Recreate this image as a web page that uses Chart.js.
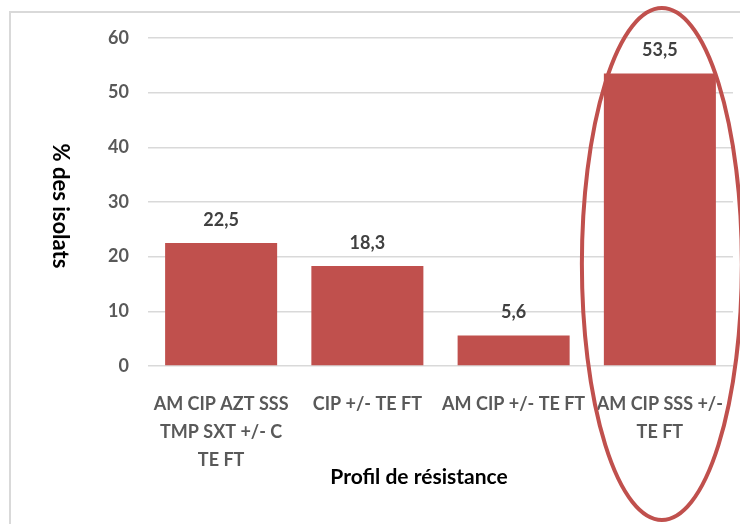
<!DOCTYPE html>
<html>
<head>
<meta charset="utf-8">
<script src="https://cdn.jsdelivr.net/npm/chart.js@4"></script>
<style>
  html, body { margin: 0; padding: 0; background: #ffffff; }
  #wrap { width: 740px; height: 524px; }
</style>
</head>
<body>
<div id="wrap"><canvas id="c" width="740" height="524"></canvas></div>
<script>
// Profils de résistance et pourcentage des isolats
const categories = [
  ["AM CIP AZT SSS", "TMP SXT +/- C", "TE FT"],
  "CIP +/- TE FT",
  "AM CIP +/- TE FT",
  ["AM CIP SSS +/-", "TE FT"]
];
const percentIsolats = [22.5, 18.3, 5.6, 53.5];
const yTicks = [0, 10, 20, 30, 40, 50, 60];

const BAR = '#C0504D';
const FONT = 'Lato, "Open Sans", sans-serif';

// Frame, value labels, axis titles and the highlight ellipse
const decorations = {
  id: 'decorations',
  beforeDraw(chart) {
    const ctx = chart.ctx;
    ctx.save();
    ctx.fillStyle = '#ffffff';
    ctx.fillRect(0, 0, chart.width, chart.height);
    ctx.strokeStyle = '#d9d9d9';
    ctx.lineWidth = 2;
    ctx.strokeRect(10, 12, 800, 600);
    ctx.restore();
  },
  afterDatasetsDraw(chart) {
    const ctx = chart.ctx;
    const meta = chart.getDatasetMeta(0);
    const data = chart.data.datasets[0].data;
    ctx.save();
    ctx.font = 'bold 18px ' + FONT;
    ctx.fillStyle = '#404040';
    ctx.textAlign = 'center';
    ctx.textBaseline = 'middle';
    meta.data.forEach((bar, i) => {
      ctx.fillText(data[i].toFixed(1).replace('.', ','), bar.x, bar.y - 23);
    });

    // axis titles
    ctx.fillStyle = '#000000';
    ctx.font = 'bold 21px ' + FONT;
    ctx.fillText('Profil de résistance', 419, 477);
    ctx.font = 'bold 22px ' + FONT;
    ctx.translate(60, 206);
    ctx.rotate(Math.PI / 2);
    ctx.fillText('% des isolats', 0, 0);
    ctx.restore();

    // ellipse around the last profile
    const xs = chart.scales.x;
    const cx = xs.getPixelForValue(percentIsolats.length - 1) + 2;
    ctx.save();
    ctx.strokeStyle = BAR;
    ctx.lineWidth = 4;
    ctx.beginPath();
    ctx.ellipse(cx, 264, 80, 256, 0, 0, Math.PI * 2);
    ctx.stroke();
    ctx.restore();
  }
};

new Chart(document.getElementById('c'), {
  type: 'bar',
  data: {
    labels: categories,
    datasets: [{
      data: percentIsolats,
      backgroundColor: BAR,
      borderWidth: 0,
      categoryPercentage: 1,
      barPercentage: 0.766
    }]
  },
  options: {
    responsive: false,
    animation: false,
    devicePixelRatio: 1,
    layout: { padding: { left: 0, right: 7, top: 38, bottom: 0 } },
    plugins: {
      legend: { display: false },
      tooltip: { enabled: false }
    },
    scales: {
      y: {
        min: 0,
        max: 60,
        afterBuildTicks(scale) {
          scale.ticks = yTicks.map(v => ({ value: v }));
        },
        afterFit(scale) { scale.width = 148; },
        grid: { color: '#d9d9d9', lineWidth: 1.5, drawTicks: false },
        border: { display: false },
        ticks: {
          color: '#595959',
          font: { family: FONT, size: 18, weight: 'bold' },
          padding: 19
        }
      },
      x: {
        afterFit(scale) { scale.height = 158; },
        grid: { display: false },
        border: { display: false },
        ticks: {
          color: '#595959',
          font: { family: FONT, size: 18, weight: 'bold', lineHeight: 1.55 },
          padding: 16,
          maxRotation: 0,
          autoSkip: false
        }
      }
    }
  },
  plugins: [decorations]
});
</script>
</body>
</html>
